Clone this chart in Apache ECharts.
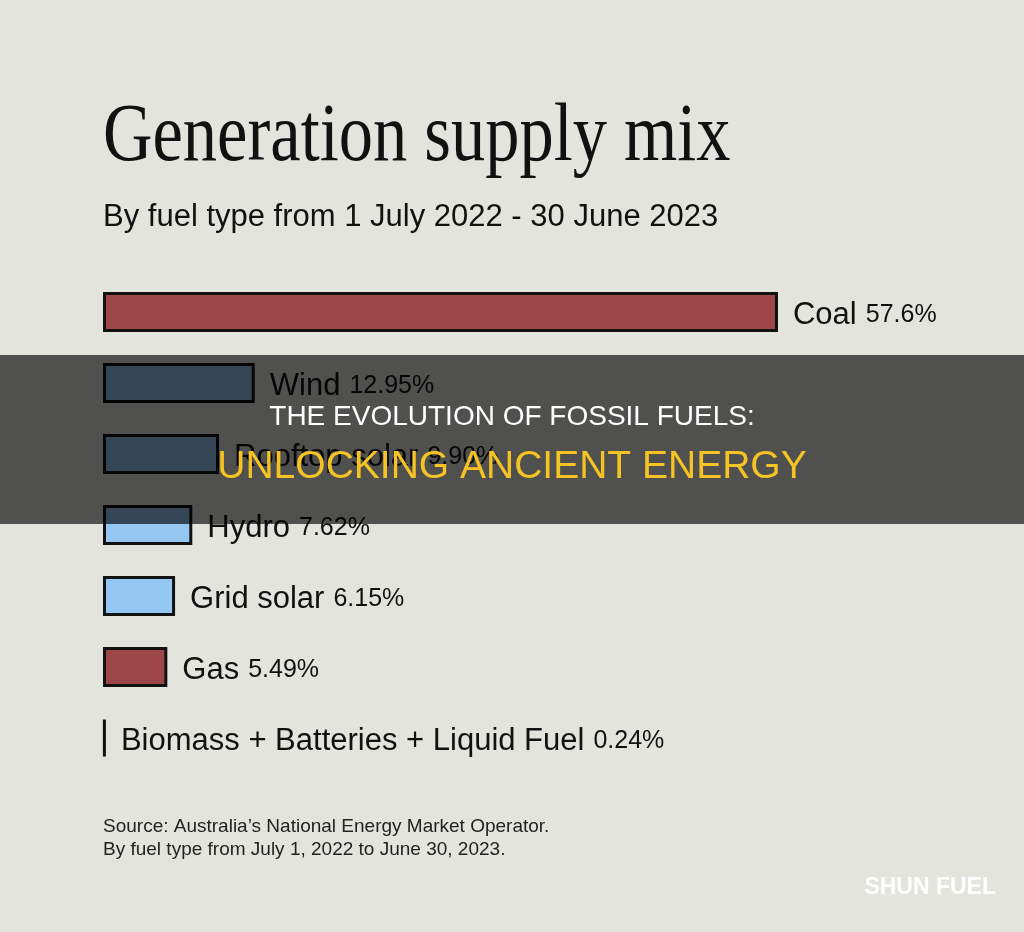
<!DOCTYPE html>
<html>
<head>
<meta charset="utf-8">
<script src="https://cdn.jsdelivr.net/npm/echarts@6/dist/echarts.min.js"></script>
<style>
  html, body { margin: 0; padding: 0; background: #e4e4df; }
  #chart { width: 1024px; height: 932px; }
</style>
</head>
<body>
<div id="chart"></div>
<script>
// fuel types, top to bottom
var fuels = ["Coal", "Wind", "Rooftop solar", "Hydro", "Grid solar", "Gas", "Biomass + Batteries + Liquid Fuel"];
var shares = [57.6, 12.95, 9.90, 7.62, 6.15, 5.49, 0.24];
var shareText = ["57.6%", "12.95%", "9.90%", "7.62%", "6.15%", "5.49%", "0.24%"];
var fuelColors = ["#9c4649", "#94c8f2", "#94c8f2", "#94c8f2", "#94c8f2", "#9c4649", "#9c4649"];

var myChart = echarts.init(document.getElementById("chart"));

var option = {
  backgroundColor: "#e4e4df",
  animation: false,
  grid: {
    left: 103,
    top: 276.5,
    width: 703.1,
    height: 497
  },
  xAxis: {
    type: "value",
    min: 0,
    max: 60,
    show: false
  },
  yAxis: {
    type: "category",
    data: fuels,
    inverse: true,
    show: false
  },
  series: [
    {
      type: "bar",
      barWidth: 40,
      data: shares.map(function (v, i) {
        return {
          value: v,
          itemStyle: { color: fuelColors[i] }
        };
      }),
      itemStyle: {
        borderColor: "#111111",
        borderWidth: 3
      },
      label: {
        show: true,
        position: "right",
        distance: 15,
        offset: [0, 3],
        fontFamily: "Liberation Sans",
        color: "#111111",
        formatter: function (p) {
          return "{n|" + fuels[p.dataIndex] + "}{v|" + shareText[p.dataIndex] + "}";
        },
        rich: {
          n: { fontSize: 31, fontFamily: "Liberation Sans", color: "#111111", padding: [0, 9, 0, 0] },
          v: { fontSize: 25, fontFamily: "Liberation Sans", color: "#111111" }
        }
      }
    }
  ],
  graphic: [
    {
      type: "text",
      left: 103,
      top: 97,
      scaleX: 0.835,
      style: {
        text: "Generation supply mix",
        font: "82px 'Liberation Serif'",
        fill: "#111111"
      }
    },
    {
      type: "text",
      left: 103,
      top: 202,
      style: {
        text: "By fuel type from 1 July 2022 - 30 June 2023",
        font: "31px 'Liberation Sans'",
        fill: "#111111"
      }
    },
    {
      type: "text",
      left: 103,
      top: 815,
      style: {
        text: "Source: Australia\u2019s National Energy Market Operator.\nBy fuel type from July 1, 2022 to June 30, 2023.",
        font: "19px 'Liberation Sans'",
        lineHeight: 23,
        fill: "#222222"
      }
    },
    {
      type: "text",
      right: 28,
      top: 876,
      style: {
        text: "SHUN FUEL",
        font: "bold 23px 'Liberation Sans'",
        fill: "#ffffff"
      }
    },
    {
      type: "rect",
      z: 100,
      shape: { x: 0, y: 355, width: 1024, height: 169 },
      style: { fill: "rgba(0,0,0,0.65)" }
    },
    {
      type: "text",
      z: 101,
      left: "center",
      top: 403,
      style: {
        text: "THE EVOLUTION OF FOSSIL FUELS:",
        font: "28px 'Liberation Sans'",
        fill: "#ffffff"
      }
    },
    {
      type: "text",
      z: 101,
      left: "center",
      top: 448,
      style: {
        text: "UNLOCKING ANCIENT ENERGY",
        font: "39px 'Liberation Sans'",
        fill: "#f5c324"
      }
    }
  ]
};

option && myChart.setOption(option);
</script>
</body>
</html>
